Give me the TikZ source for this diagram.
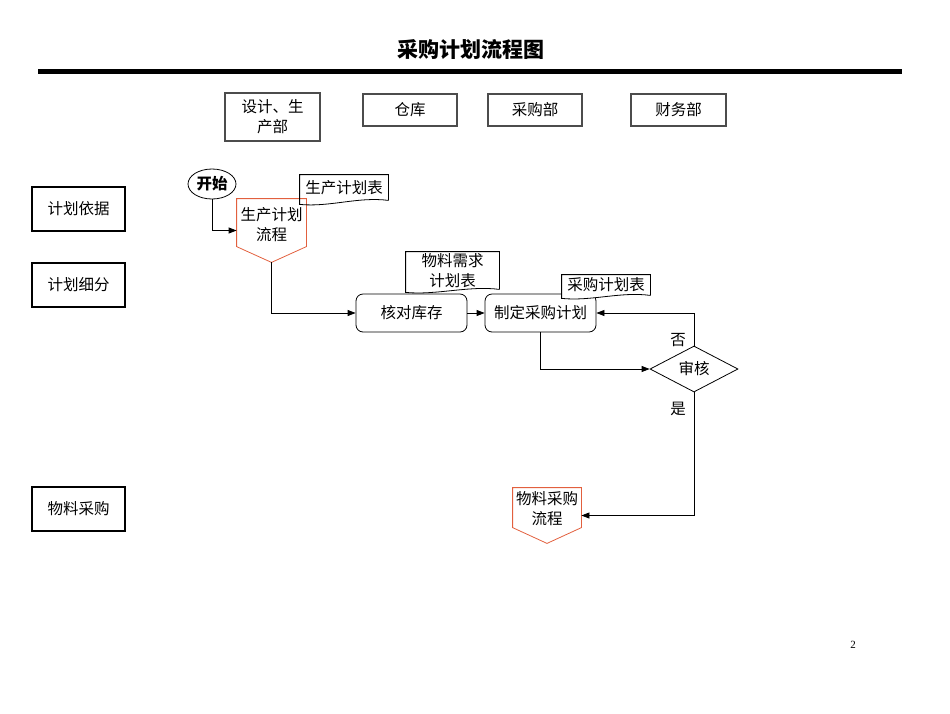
\documentclass[tikz,border=0pt]{standalone}
\usepackage{fontspec}
\setmainfont{Noto Sans CJK SC}
\newfontfamily\numfont{Liberation Serif}
\usetikzlibrary{arrows.meta,shapes.geometric,calc}
\definecolor{offc}{HTML}{E2603E}
\begin{document}
\begin{tikzpicture}[x=1pt,y=-1pt,
  font=\fontsize{15.5}{20}\selectfont,
  line width=0.8pt,
  arr/.style={-{Triangle[length=8pt,width=6pt]}},
  hdr/.style={draw=black!70, line width=1.1pt, align=center, inner sep=0pt},
  lane/.style={draw, line width=1.6pt, minimum width=93, minimum height=44, inner sep=0pt},
  proc/.style={draw, rounded corners=7pt, minimum width=111, minimum height=38, inner sep=0pt},
  doc/.style={inner sep=0pt, align=center},
  offp/.style={inner sep=0pt, align=center, minimum width=69}
]
\useasboundingbox (0,0) rectangle (950,713);

% title
\node[font=\fontsize{21}{24}\selectfont\bfseries] (title) at (471,50) {采购计划流程图};
\draw[line width=5pt] (38,71) coordinate (tl) -- (902,71) coordinate (tr);

% headers
\node[hdr, minimum width=95, minimum height=48] (h1) at (272.5,117) {设计、生\\产部};
\node[hdr, minimum width=94, minimum height=32] (h2) at (410,110) {仓库};
\node[hdr, minimum width=94, minimum height=32] (h3) at (535,110) {采购部};
\node[hdr, minimum width=95, minimum height=32] (h4) at (678.5,110) {财务部};

% lanes
\node[lane] (l1) at (78.5,209) {计划依据};
\node[lane] (l2) at (78.5,285) {计划细分};
\node[lane] (l3) at (78.5,509) {物料采购};

% start
\node[draw, ellipse, minimum width=48, minimum height=30, inner sep=0pt, font=\fontsize{15.5}{18}\selectfont\bfseries] (start) at (212,184) {开始};

% off-page 1
\node[offp, minimum height=63] (p1) at (271.5,230.5) {};
\draw[offc] (p1.north west) -- (p1.north east) -- ($(p1.north east)+(0,48)$) -- (p1.south) -- ($(p1.north west)+(0,48)$) -- cycle;
\node[align=center] (p1t) at (271.5,225) {生产计划\\流程};

% document 生产计划表
\node[doc, minimum width=88, minimum height=25] (d1) at (344,187.5) {生产计划表};
\draw (d1.south east) -- (d1.north east) -- (d1.north west) -- ($(d1.south west)+(0,4)$)
  .. controls ($(d1.south west)+(30,7)$) and ($(d1.south east)+(-30,-4)$) .. (d1.south east);

% process nodes
\node[proc] (chk) at (411.5,313) {核对库存};
\node[proc] (plan) at (540.5,313) {制定采购计划};

% document 物料需求计划表
\node[doc, minimum width=93, minimum height=37] (d2) at (452.5,270.5) {物料需求\\计划表};
\draw (d2.south east) -- (d2.north east) -- (d2.north west) -- ($(d2.south west)+(0,3)$)
  .. controls ($(d2.south west)+(30,6)$) and ($(d2.south east)+(-30,-4)$) .. (d2.south east);

% document 采购计划表
\node[doc, minimum width=88, minimum height=20] (d3) at (606,285) {采购计划表};
\draw[fill=white] (d3.south east) -- (d3.north east) -- (d3.north west) -- ($(d3.south west)+(0,3)$)
  .. controls ($(d3.south west)+(30,6)$) and ($(d3.south east)+(-30,-4)$) .. (d3.south east);
\node at (d3) {采购计划表};

% decision
\node[draw, diamond, minimum width=88, minimum height=46, inner sep=0pt] (dec) at (694,369) {审核};

% off-page 2
\node[offp, minimum height=55, minimum width=68] (p2) at (547,515.5) {};
\draw[offc] (p2.north west) -- (p2.north east) -- ($(p2.north east)+(0,40)$) -- (p2.south) -- ($(p2.north west)+(0,40)$) -- cycle;
\node[align=center] (p2t) at (547,509) {物料采购\\流程};

% connectors
\draw[arr] (start.south) |- (p1.west);
\draw[arr] (p1.south) |- (chk.west);
\draw[arr] (chk.east) -- (plan.west);
\draw[arr] (plan.south) |- (dec.west);
\draw[arr] (dec.north) |- (plan.east);
\draw[arr] (dec.south) |- (p2.east);

\node (no) at (678,340) {否};
\node (yes) at (678,409) {是};

\node[font=\numfont\fontsize{11}{13}\selectfont] (pg) at (853,645) {2};
\end{tikzpicture}
\end{document}
